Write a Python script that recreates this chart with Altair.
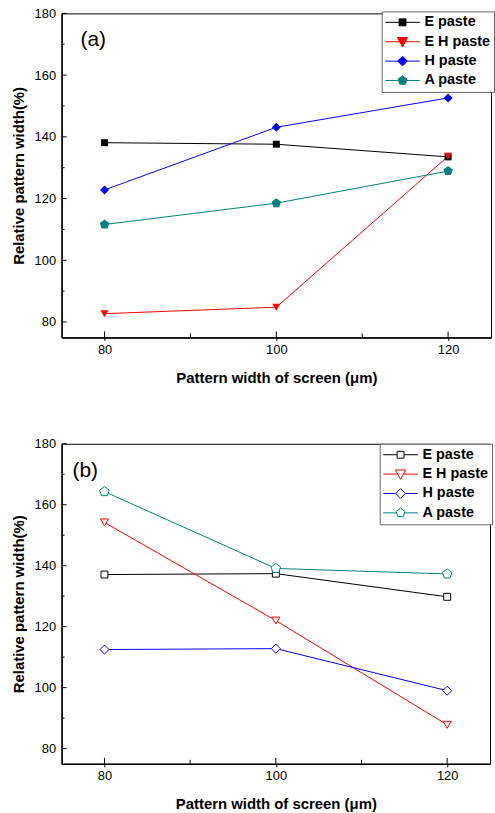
import altair as alt
import pandas as pd

# ---------------- data ----------------
x_vals = [80, 100, 120]
series_names = ["E paste", "E H paste", "H paste", "A paste"]

a_E = [138.1, 137.6, 133.5]
a_EH = [82.7, 84.8, 133.7]
a_H = [122.8, 143.1, 152.6]
a_A = [111.6, 118.5, 128.9]

b_E = [137.1, 137.4, 129.8]
b_EH = [154.2, 122.0, 87.8]
b_H = [112.5, 112.8, 99.0]
b_A = [164.3, 139.1, 137.3]

x_major = [80, 100, 120]
x_minor = [90, 110]
y_major = [80, 100, 120, 140, 160, 180]
y_minor = [90, 110, 130, 150, 170]

# ---------------- styles ----------------
FONT = "Liberation Sans"
colors = ["#000000", "#ff0000", "#0000ff", "#008080"]
PENT = "M0,-1L0.951,-0.309L0.588,0.809L-0.588,0.809L-0.951,-0.309Z"
shapes = ["square", "triangle-down", "diamond", PENT]
sizes = [49, 100, 100, 90]
legend_paths = [
    "M-1,0H-0.2M0.2,0H1M-0.2,-0.2H0.2V0.2H-0.2Z",
    "M-1,0H-0.167M0.167,0H1M-0.3,-0.24L0.3,-0.24L0,0.3Z",
    "M-1,0H-0.28M0.28,0H1M0,-0.28L0.28,0L0,0.28L-0.28,0Z",
    "M-1,0H-0.23M0.23,0H1M0,-0.27L0.257,-0.083L0.159,0.218L-0.159,0.218L-0.257,-0.083Z",
]


def make_df(E, EH, H, A):
    rows = []
    for name, vals in zip(series_names, [E, EH, H, A]):
        for x, y in zip(x_vals, vals):
            rows.append({"x": x, "y": y, "series": name})
    return pd.DataFrame(rows)


def panel(df, label, label_x, filled, W, H, legx, legy):
    xs = alt.Scale(domain=[75, 125], nice=False, zero=False)
    ys = alt.Scale(domain=[75, 180], nice=False, zero=False)
    x_axis = alt.Axis(
        title="Pattern width of screen (\u03bcm)", values=x_major, format="d",
        ticks=True, tickSize=3, tickColor="black", labelPadding=3, titlePadding=14)
    y_axis = alt.Axis(
        title="Relative pattern width(%)", values=y_major, format="d",
        ticks=False, labelPadding=6, titlePadding=8)

    def X(f):
        return alt.X(f, scale=xs, axis=x_axis)

    def Y(f):
        return alt.Y(f, scale=ys, axis=y_axis)

    leg = alt.Legend(
        title=None, orient="none", legendX=legx, legendY=legy,
        padding=3, symbolSize=1204, clipHeight=16, rowPadding=3.5,
        labelOffset=4, labelFont=FONT, labelFontSize=14.5, labelFontWeight="bold",
        labelColor="black", strokeColor="#666666", fillColor="white",
        symbolStrokeWidth=1, symbolOpacity=1,
        symbolFillColor="white")

    base = alt.Chart(df)
    lines = base.mark_line(strokeWidth=1).encode(
        x=X("x:Q"), y=Y("y:Q"),
        color=alt.Color("series:N", scale=alt.Scale(domain=series_names, range=colors), legend=None),
        detail="series:N",
    )
    if filled:
        pm = base.mark_point(filled=True, opacity=1, strokeWidth=0.5)
    else:
        pm = base.mark_point(filled=False, fill="white", opacity=1, strokeWidth=1)
    points = pm.encode(
        x=X("x:Q"), y=Y("y:Q"),
        color=alt.Color("series:N", scale=alt.Scale(domain=series_names, range=colors), legend=None),
        shape=alt.Shape("series:N", scale=alt.Scale(domain=series_names, range=shapes), legend=None),
        size=alt.Size("series:O", scale=alt.Scale(domain=series_names, range=sizes), legend=None),
    )

    # legend-only layer (invisible marks; legend symbols = line stub + marker)
    lg_enc = dict(
        x=X("x:Q"), y=Y("y:Q"),
        shape=alt.Shape("series:N", scale=alt.Scale(domain=series_names, range=legend_paths), legend=leg),
        stroke=alt.Stroke("series:N", scale=alt.Scale(domain=series_names, range=colors), legend=leg),
    )
    if filled:
        lg_enc["fill"] = alt.Fill("series:N", scale=alt.Scale(domain=series_names, range=colors), legend=leg)
        lg = base.mark_point(filled=True, opacity=0, strokeWidth=1).encode(**lg_enc)
    else:
        lg = base.mark_point(filled=False, opacity=0, strokeWidth=1).encode(**lg_enc)

    def xticks(vals, ln):
        return alt.Chart(pd.DataFrame({"x": vals})).mark_rule(color="black", strokeWidth=1).encode(
            x=X("x:Q"), y=alt.value(H), y2=alt.value(H - ln))

    def yticks(vals, ln):
        return alt.Chart(pd.DataFrame({"y": vals})).mark_rule(color="black", strokeWidth=1).encode(
            y=Y("y:Q"), x=alt.value(0), x2=alt.value(ln))

    txt = alt.Chart(pd.DataFrame({"t": [label]})).mark_text(
        font=FONT, fontSize=21, align="left", baseline="alphabetic", color="black").encode(
        text="t:N", x=alt.value(label_x), y=alt.value(33))

    layers = [lines, points, lg, xticks(x_major, 6), xticks(x_minor, 4),
              yticks(y_major, 5), yticks(y_minor, 3), txt]
    return alt.layer(*layers).resolve_scale(
        shape="independent", fill="independent", stroke="independent"
    ).properties(width=W, height=H)


pa = panel(make_df(a_E, a_EH, a_H, a_A), "(a)", 19, True, 432, 326, 322, -2)
pb = panel(make_df(b_E, b_EH, b_H, b_A), "(b)", 11, False, 431, 322, 320, 0)

chart = alt.vconcat(pa, pb, spacing=51).properties(
    padding={"left": 10, "top": 4, "right": 0, "bottom": 0},
).configure(
    font=FONT
).configure_view(
    stroke="black", strokeWidth=1
).configure_axis(
    domainColor="black", domainWidth=1.5, labelColor="black", labelFontSize=13,
    labelFont=FONT, titleFont=FONT, titleFontSize=15, titleFontWeight="bold",
    titleColor="black", grid=False,
)

chart.save("out.html", embed_options={"renderer": "svg", "actions": False})
